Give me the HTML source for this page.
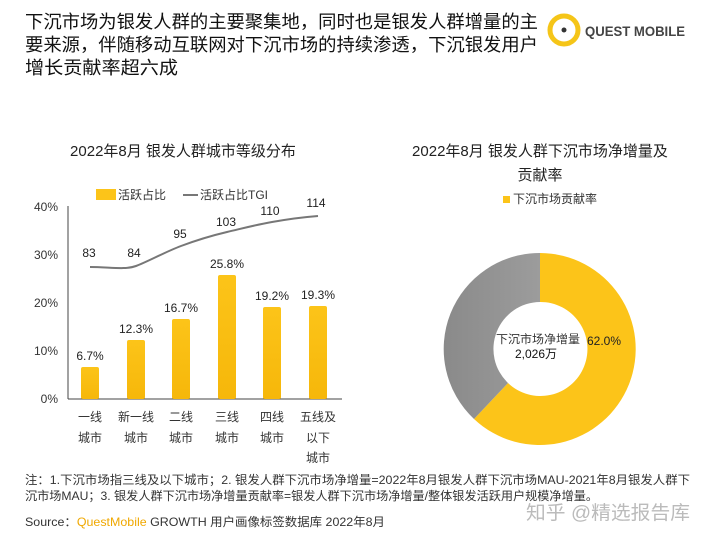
<!DOCTYPE html>
<html><head><meta charset="utf-8"><style>
body{margin:0;width:720px;height:540px;background:#fff;overflow:hidden;font-family:"Liberation Sans","Noto Sans CJK SC",sans-serif;}
</style></head><body>
<svg width="720" height="540" viewBox="0 0 720 540" xmlns="http://www.w3.org/2000/svg" style="font-family:'Liberation Sans','Noto Sans CJK SC',sans-serif">
<defs>
<linearGradient id="yb" x1="0" y1="0" x2="0" y2="1"><stop offset="0" stop-color="#fcc419"/><stop offset="1" stop-color="#f6b70a"/></linearGradient>
<linearGradient id="gr" x1="0" y1="0" x2="1" y2="0"><stop offset="0" stop-color="#8a8a8a"/><stop offset="1" stop-color="#9c9c9c"/></linearGradient>
</defs>
<g font-size="18" fill="#111">
<text x="25" y="28" textLength="513" lengthAdjust="spacingAndGlyphs">下沉市场为银发人群的主要聚集地，同时也是银发人群增量的主</text>
<text x="25" y="51" textLength="513" lengthAdjust="spacingAndGlyphs">要来源，伴随移动互联网对下沉市场的持续渗透，下沉银发用户</text>
<text x="25" y="74" textLength="153" lengthAdjust="spacingAndGlyphs">增长贡献率超六成</text>
</g>
<circle cx="564" cy="30" r="14" fill="none" stroke="#f5c518" stroke-width="5"/>
<circle cx="564" cy="30" r="2.5" fill="#333"/>
<text x="585" y="36" font-size="14" fill="#444" font-weight="bold" textLength="100" lengthAdjust="spacingAndGlyphs">QUEST MOBILE</text>
<text x="183" y="156" font-size="15" text-anchor="middle" fill="#222">2022年8月 银发人群城市等级分布</text>
<rect x="96" y="189" width="20" height="11" fill="#fcc419"/>
<text x="118" y="199" font-size="12" fill="#333">活跃占比</text>
<line x1="183" y1="195" x2="198" y2="195" stroke="#777" stroke-width="2"/>
<text x="200" y="199" font-size="12" fill="#333">活跃占比TGI</text>
<g font-size="12" fill="#333" text-anchor="end">
<text x="58" y="211">40%</text><text x="58" y="259">30%</text><text x="58" y="307">20%</text><text x="58" y="355">10%</text><text x="58" y="403">0%</text>
</g>
<line x1="68" y1="206" x2="68" y2="399" stroke="#444"/>
<line x1="68" y1="399" x2="342" y2="399" stroke="#444"/>
<g fill="url(#yb)">
<rect x="81" y="367" width="18" height="32" rx="2"/>
<rect x="127" y="340" width="18" height="59" rx="2"/>
<rect x="172" y="319" width="18" height="80" rx="2"/>
<rect x="218" y="275" width="18" height="124" rx="2"/>
<rect x="263" y="307" width="18" height="92" rx="2"/>
<rect x="309" y="306" width="18" height="93" rx="2"/>
</g>
<g font-size="12" fill="#222" text-anchor="middle">
<text x="90" y="360">6.7%</text><text x="136" y="333">12.3%</text><text x="181" y="312">16.7%</text>
<text x="227" y="268">25.8%</text><text x="272" y="300">19.2%</text><text x="318" y="299">19.3%</text>
<text x="89" y="257">83</text><text x="134" y="257">84</text><text x="180" y="238">95</text>
<text x="226" y="226">103</text><text x="270" y="215">110</text><text x="316" y="207">114</text>
</g>
<path d="M90 267 C110 267,125 270,136 266 S165 252,181 246 S210 236,227 232 S255 225,272 222 S305 217,318 216" fill="none" stroke="#777" stroke-width="2"/>
<g font-size="12" fill="#333" text-anchor="middle">
<text x="90" y="421">一线</text><text x="90" y="442">城市</text>
<text x="136" y="421">新一线</text><text x="136" y="442">城市</text>
<text x="181" y="421">二线</text><text x="181" y="442">城市</text>
<text x="227" y="421">三线</text><text x="227" y="442">城市</text>
<text x="272" y="421">四线</text><text x="272" y="442">城市</text>
<text x="318" y="421">五线及</text><text x="318" y="442">以下</text><text x="318" y="462">城市</text>
</g>
<text x="540" y="156" font-size="15" text-anchor="middle" fill="#222">2022年8月 银发人群下沉市场净增量及</text>
<text x="540" y="180" font-size="15" text-anchor="middle" fill="#222">贡献率</text>
<rect x="503" y="196" width="7" height="7" fill="#fcc419"/>
<text x="513" y="203" font-size="12" fill="#333">下沉市场贡献率</text>
<path d="M540 253 A96 96 0 1 1 474 419 L508 383 A47 47 0 1 0 540 302 Z" fill="#fcc419"/>
<path d="M474 419 A96 96 0 0 1 540 253 L540 302 A47 47 0 0 0 508 383 Z" fill="url(#gr)"/>
<text x="604" y="345" font-size="12" fill="#222" text-anchor="middle">62.0%</text>
<text x="538" y="343" font-size="11.5" fill="#333" text-anchor="middle" textLength="84" lengthAdjust="spacingAndGlyphs">下沉市场净增量</text>
<text x="536" y="358" font-size="12" fill="#111" text-anchor="middle">2,026万</text>
<g font-size="12" fill="#333">
<text x="25" y="484" textLength="665" lengthAdjust="spacingAndGlyphs">注：1.下沉市场指三线及以下城市；2. 银发人群下沉市场净增量=2022年8月银发人群下沉市场MAU-2021年8月银发人群下</text>
<text x="25" y="500" textLength="573" lengthAdjust="spacingAndGlyphs">沉市场MAU；3. 银发人群下沉市场净增量贡献率=银发人群下沉市场净增量/整体银发活跃用户规模净增量。</text>
<text x="25" y="526" textLength="360" lengthAdjust="spacingAndGlyphs">Source：<tspan fill="#f0a800">QuestMobile</tspan> GROWTH 用户画像标签数据库 2022年8月</text>
</g>
<text x="526" y="519" font-size="19" fill="#bbb" textLength="164" lengthAdjust="spacingAndGlyphs">知乎 @精选报告库</text>
</svg>
</body></html>
